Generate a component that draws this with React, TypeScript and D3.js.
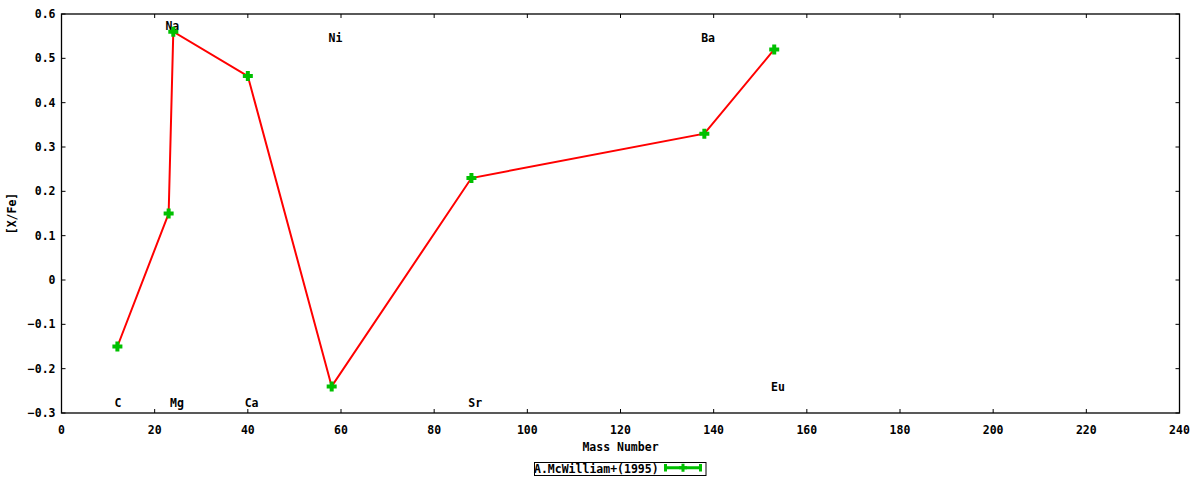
import React, { useEffect, useRef } from "react";
import * as d3 from "d3";

// Abundance pattern, [X/Fe] against mass number
const elements = ["C", "Na", "Mg", "Ca", "Ni", "Sr", "Ba", "Eu"];
const massNumbers = [12, 23, 24, 40, 58, 88, 138, 153];
const xFeValues = [-0.15, 0.15, 0.56, 0.46, -0.24, 0.23, 0.33, 0.52];
const labelXValues = [12.1, 23.8, 24.8, 40.8, 58.8, 88.8, 138.8, 153.8];
const labelYValues = [-0.278, 0.574, -0.278, -0.278, 0.547, -0.278, 0.547, -0.241];

const xTicks = [0, 20, 40, 60, 80, 100, 120, 140, 160, 180, 200, 220, 240];
const yTicks = [-0.3, -0.2, -0.1, 0, 0.1, 0.2, 0.3, 0.4, 0.5, 0.6];
const seriesName = "A.McWilliam+(1995)";

const FONT = "'DejaVu Sans Mono', monospace";

const App: React.FC = () => {
  const svgRef = useRef<SVGSVGElement>(null);

  useEffect(() => {
    if (!svgRef.current) return;
    const width = 1200;
    const height = 480;
    const margin = { top: 14, right: 20.5, bottom: 67, left: 61.5 };
    const plotW = width - margin.left - margin.right;
    const plotH = height - margin.top - margin.bottom;

    const svg = d3.select(svgRef.current);
    svg.selectAll("*").remove();
    svg.attr("width", width).attr("height", height);

    const g = svg.append("g").attr("transform", `translate(${margin.left},${margin.top})`);

    const x = d3.scaleLinear().domain([0, 240]).range([0, plotW]);
    const y = d3.scaleLinear().domain([-0.3, 0.6]).range([plotH, 0]);
    const tickLen = 4;

    // ticks on all four sides, pointing inwards
    xTicks.forEach((t) => {
      g.append("line")
        .attr("x1", x(t)).attr("x2", x(t))
        .attr("y1", plotH).attr("y2", plotH - tickLen)
        .attr("stroke", "#000");
      g.append("line")
        .attr("x1", x(t)).attr("x2", x(t))
        .attr("y1", 0).attr("y2", tickLen)
        .attr("stroke", "#000");
      g.append("text")
        .attr("x", x(t))
        .attr("y", plotH + 17)
        .attr("dy", "0.35em")
        .attr("text-anchor", "middle")
        .attr("font-family", FONT)
        .attr("font-weight", "bold")
        .attr("font-size", "11.5px")
        .text(d3.format("d")(t));
    });

    yTicks.forEach((t) => {
      g.append("line")
        .attr("x1", 0).attr("x2", tickLen)
        .attr("y1", y(t)).attr("y2", y(t))
        .attr("stroke", "#000");
      g.append("line")
        .attr("x1", plotW).attr("x2", plotW - tickLen)
        .attr("y1", y(t)).attr("y2", y(t))
        .attr("stroke", "#000");
      g.append("text")
        .attr("x", -6)
        .attr("y", y(t))
        .attr("dy", "0.35em")
        .attr("text-anchor", "end")
        .attr("font-family", FONT)
        .attr("font-weight", "bold")
        .attr("font-size", "11.5px")
        .text(t === 0 ? "0" : d3.format(".1f")(t));
    });

    // border
    g.append("rect")
      .attr("x", 0).attr("y", 0)
      .attr("width", plotW).attr("height", plotH)
      .attr("fill", "none")
      .attr("stroke", "#000")
      .attr("stroke-width", 1.3);

    // element labels
    elements.forEach((el, i) => {
      g.append("text")
        .attr("x", x(labelXValues[i]))
        .attr("y", y(labelYValues[i]))
        .attr("dy", "0.35em")
        .attr("text-anchor", "middle")
        .attr("font-family", FONT)
        .attr("font-weight", "bold")
        .attr("font-size", "11.5px")
        .text(el);
    });

    // series line
    const pts = massNumbers.map((m, i) => [m, xFeValues[i]] as [number, number]);
    const line = d3.line<[number, number]>().x((d) => x(d[0])).y((d) => y(d[1]));
    g.append("path")
      .attr("d", line(pts) as string)
      .attr("fill", "none")
      .attr("stroke", "#ff0000")
      .attr("stroke-width", 2);

    // plus markers
    const plus = (cx: number, cy: number, r: number) =>
      `M${cx - r},${cy}H${cx + r}M${cx},${cy - r}V${cy + r}`;
    g.selectAll(".pt")
      .data(pts)
      .join("path")
      .attr("d", (d) => plus(x(d[0]), y(d[1]), 5))
      .attr("stroke", "#00c000")
      .attr("stroke-width", 4)
      .attr("fill", "none");

    // axis titles
    svg.append("text")
      .attr("x", margin.left + plotW / 2)
      .attr("y", 447)
      .attr("dy", "0.35em")
      .attr("text-anchor", "middle")
      .attr("font-family", FONT)
      .attr("font-weight", "bold")
      .attr("font-size", "11.5px")
      .text("Mass Number");

    svg.append("text")
      .attr("transform", `translate(12,${margin.top + plotH / 2}) rotate(-90)`)
      .attr("dy", "0.35em")
      .attr("text-anchor", "middle")
      .attr("font-family", FONT)
      .attr("font-weight", "bold")
      .attr("font-size", "11.5px")
      .text("[X/Fe]");

    // legend
    const lg = svg.append("g");
    lg.append("rect")
      .attr("x", 534.5).attr("y", 462.5)
      .attr("width", 171.5).attr("height", 13)
      .attr("fill", "#fff")
      .attr("stroke", "#000")
      .attr("stroke-width", 1);
    lg.append("text")
      .attr("x", 534)
      .attr("y", 469)
      .attr("dy", "0.35em")
      .attr("font-family", FONT)
      .attr("font-weight", "bold")
      .attr("font-size", "11.5px")
      .text(seriesName);
    lg.append("path")
      .attr("d", `M665,467.7H701M665.5,464V471.5M700.5,464V471.5`)
      .attr("stroke", "#00c000")
      .attr("stroke-width", 3)
      .attr("fill", "none");
    lg.append("path")
      .attr("d", plus(683, 467.7, 4))
      .attr("stroke", "#00c000")
      .attr("stroke-width", 3)
      .attr("fill", "none");
  }, []);

  return (
    <div style={{ position: "absolute", left: 0, top: 0, width: 1200, height: 480, background: "#fff" }}>
      <svg ref={svgRef} style={{ display: "block" }} />
    </div>
  );
};

export default App;
